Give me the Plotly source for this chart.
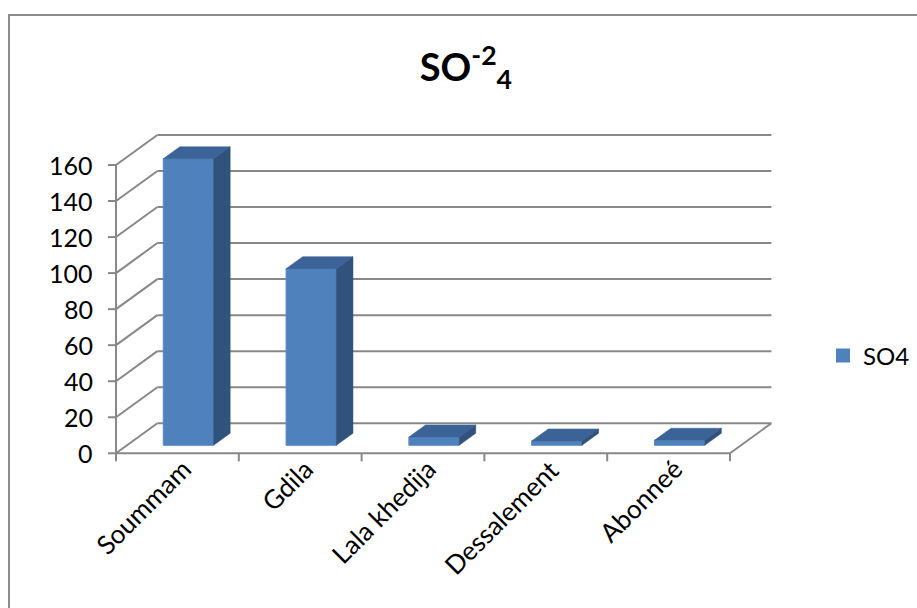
import plotly.graph_objects as go

# --- data ---
categories = ["Soummam", "Gdila", "Lala khedija", "Dessalement", "Abonneé"]
so4_values = [159, 98, 4.6, 2.4, 2.8]
series_name = "SO4"
y_ticks = [0, 20, 40, 60, 80, 100, 120, 140, 160]

# --- oblique 3-D look (in axis units) ---
DX, DY = 0.337, 16.67          # depth of the floor / walls
F1, F2 = 0.267, 0.667          # front and back of each column within the depth
BAR_W = 0.41

FRONT = "#4F81BD"
TOP = "#3C6397"
SIDE = "#30527D"
GRID = "#888888"
FONT = "Lato"

W_PX, H_PX = 917, 608
# axis ranges so that x=0 sits at px 116 and y=0 at px 453
PX_X, PX_Y = 122.8, 1.802
x0 = -116 / PX_X
x1 = x0 + W_PX / PX_X
y1 = 453.3 / PX_Y
y0 = y1 - H_PX / PX_Y

fig = go.Figure()
shapes = []
annotations = []

def line(xa, ya, xb, yb, layer="below"):
    shapes.append(dict(type="line", xref="x", yref="y", x0=xa, y0=ya, x1=xb, y1=yb,
                       line=dict(color=GRID, width=2), layer=layer))

n = len(categories)
top_val = y_ticks[-1]
# back wall and left wall gridlines
for v in y_ticks:
    line(DX, v + DY, n + DX, v + DY)
    line(0, v, DX, v + DY)
# floor edges and front axis
line(0, 0, n, 0)
line(n, 0, n + DX, DY)
line(0, 0, 0, top_val)
# y tick marks and labels
tick_len_x = 8 / PX_X
for v in y_ticks:
    line(-tick_len_x, v, 0, v)
    annotations.append(dict(x=0, y=v, xref="x", yref="y", text=str(v), showarrow=False,
                            xanchor="right", yanchor="middle", xshift=-21,
                            font=dict(family=FONT, size=25, color="#000000")))
# x tick marks at category boundaries
tick_len_y = 8 / PX_Y
for i in range(n + 1):
    line(i, 0, i, -tick_len_y)
# category labels
for i, c in enumerate(categories):
    annotations.append(dict(x=i + 0.5, y=0, xref="x", yref="y", text=c, showarrow=False,
                            textangle=-45, xanchor="right", yanchor="top",
                            xshift=22, yshift=3,
                            font=dict(family=FONT, size=26, color="#000000")))

# column front faces
fig.add_trace(go.Bar(
    x=[i + 0.5 + F1 * DX for i in range(n)],
    y=so4_values,
    base=[F1 * DY] * n,
    width=BAR_W,
    marker=dict(color=FRONT, line=dict(color="#5688C6", width=1)),
    name=series_name,
    showlegend=False,
    hoverinfo="skip",
))
# legend key for the series
fig.add_trace(go.Scatter(
    x=[None], y=[None], mode="markers", name=series_name,
    marker=dict(symbol="square", size=14, color=FRONT),
    showlegend=True, hoverinfo="skip"))

# column top and side faces
for i, v in enumerate(so4_values):
    xl = i + 0.5 - BAR_W / 2
    xr = i + 0.5 + BAR_W / 2
    zt1, zt2 = F1 * DY + v, F2 * DY + v
    fig.add_trace(go.Scatter(
        x=[xl + F1 * DX, xr + F1 * DX, xr + F2 * DX, xl + F2 * DX, xl + F1 * DX],
        y=[zt1, zt1, zt2, zt2, zt1],
        fill="toself", fillcolor=TOP, mode="lines", line=dict(width=0.5, color=TOP),
        showlegend=False, hoverinfo="skip"))
    fig.add_trace(go.Scatter(
        x=[xr + F1 * DX, xr + F1 * DX, xr + F2 * DX, xr + F2 * DX, xr + F1 * DX],
        y=[F1 * DY, zt1, zt2, F2 * DY, F1 * DY],
        fill="toself", fillcolor=SIDE, mode="lines", line=dict(width=0.5, color=SIDE),
        showlegend=False, hoverinfo="skip"))

# outer frame of the chart area
shapes.append(dict(type="path", xref="paper", yref="paper",
                   path=f"M {9/W_PX},-0.05 L {9/W_PX},{1-15/H_PX} L 1.05,{1-15/H_PX}",
                   line=dict(color="#8C8C8C", width=2), layer="above"))

fig.update_layout(
    width=W_PX, height=H_PX,
    margin=dict(l=0, r=0, t=0, b=0),
    paper_bgcolor="white", plot_bgcolor="white",
    xaxis=dict(range=[x0, x1], visible=False, fixedrange=True),
    yaxis=dict(range=[y0, y1], visible=False, fixedrange=True),
    shapes=shapes,
    annotations=annotations,
    title=dict(text="<b>SO<sup>-2</sup><sub>4</sub></b>", x=0.508, xanchor="center",
               y=1 - 68 / H_PX, yanchor="middle",
               font=dict(family=FONT, size=38, color="#000000")),
    legend=dict(x=823 / W_PX, y=1 - 356 / H_PX, xanchor="left", yanchor="middle",
                font=dict(family=FONT, size=24, color="#000000"),
                bgcolor="rgba(0,0,0,0)"),
    showlegend=True,
)

fig.write_html("out.html")
